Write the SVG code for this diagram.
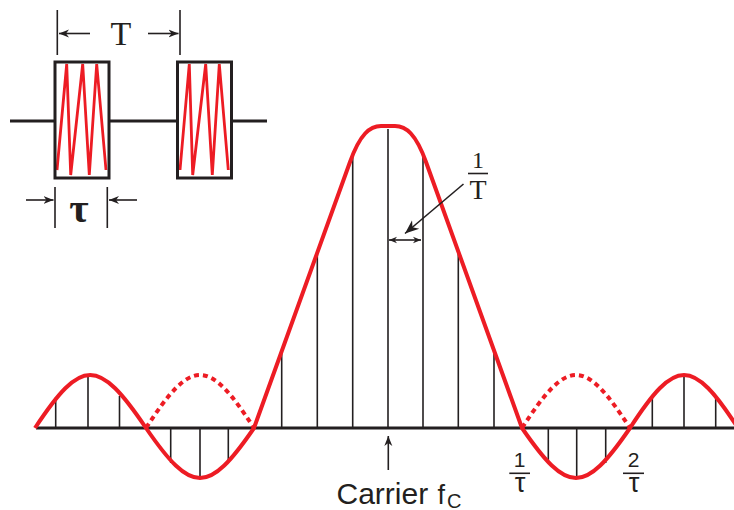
<svg xmlns="http://www.w3.org/2000/svg" width="734" height="510" viewBox="0 0 734 510">
<defs>
<marker id="ah" viewBox="0 0 10 10" refX="10" refY="5" markerWidth="10" markerHeight="10" markerUnits="userSpaceOnUse" orient="auto-start-reverse">
<path d="M0,1 L10,5 L0,9 L3,5 Z" fill="#231f20"/>
</marker>
<marker id="ahs" viewBox="0 0 10 10" refX="10" refY="5" markerWidth="8" markerHeight="8" markerUnits="userSpaceOnUse" orient="auto-start-reverse">
<path d="M0,1 L10,5 L0,9 L3,5 Z" fill="#231f20"/>
</marker>
<marker id="ahb" viewBox="0 0 10 10" refX="10" refY="5" markerWidth="14" markerHeight="14" markerUnits="userSpaceOnUse" orient="auto">
<path d="M0,1 L10,5 L0,9 L3,5 Z" fill="#231f20"/>
</marker>
</defs>
<style>
.k{stroke:#231f20;fill:none}
.ln{stroke:#231f20;stroke-width:1.6;fill:none}
.red{stroke:#ed1c24;stroke-width:4;fill:none;stroke-linejoin:round}
.dot{stroke:#ed1c24;stroke-width:4;fill:none;stroke-dasharray:5 4}
.zig{stroke:#ed1c24;stroke-width:2.8;fill:none;stroke-linejoin:miter}
.box{stroke:#231f20;stroke-width:3;fill:none}
.serif{font-family:"Liberation Serif","Times New Roman",serif;fill:#231f20}
.sans{font-family:"Liberation Sans",Arial,sans-serif;fill:#231f20}
</style>

<g id="pulse-train">
<line class="k" stroke-width="3" x1="10" y1="121" x2="56" y2="121"/>
<line class="k" stroke-width="3" x1="108" y1="121" x2="178" y2="121"/>
<line class="k" stroke-width="3" x1="231" y1="121" x2="267" y2="121"/>
<path class="zig" d="M57,170 L66.7,64 L70.7,175 L82.7,64 L89.3,175 L96.7,64 L106,170"/>
<path class="zig" d="M180,170 L189.3,64 L192.7,175 L205.7,64 L212.3,175 L219.3,64 L228.3,170"/>
<rect class="box" x="55" y="62" width="54" height="116"/>
<rect class="box" x="177.5" y="62" width="54" height="116"/>
</g>

<g id="dim-T">
<line class="ln" x1="57.3" y1="10" x2="57.3" y2="55"/>
<line class="ln" x1="180" y1="10" x2="180" y2="55"/>
<line class="ln" x1="90" y1="33.5" x2="59" y2="33.5" marker-end="url(#ah)"/>
<line class="ln" x1="148" y1="33.5" x2="178.5" y2="33.5" marker-end="url(#ah)"/>
<text class="serif" x="121" y="45" font-size="34" text-anchor="middle">T</text>
</g>

<g id="dim-tau">
<line class="ln" x1="55" y1="187" x2="55" y2="228"/>
<line class="ln" x1="107.3" y1="187" x2="107.3" y2="228"/>
<line class="ln" x1="26" y1="200" x2="53.5" y2="200" marker-end="url(#ah)"/>
<line class="ln" x1="137" y1="200" x2="109" y2="200" marker-end="url(#ah)"/>
<text class="serif" x="79" y="222" font-size="42" font-weight="bold" text-anchor="middle">τ</text>
</g>

<g id="spectrum-lines">
<line class="ln" x1="55.7" y1="428" x2="55.7" y2="397"/>
<line class="ln" x1="88" y1="428" x2="88" y2="376"/>
<line class="ln" x1="119.5" y1="428" x2="119.5" y2="396"/>
<line class="ln" x1="170.7" y1="428" x2="170.7" y2="463"/>
<line class="ln" x1="200" y1="428" x2="200" y2="478"/>
<line class="ln" x1="228.3" y1="428" x2="228.3" y2="463"/>
<line class="ln" x1="281.7" y1="428" x2="281.7" y2="352"/>
<line class="ln" x1="317.3" y1="428" x2="317.3" y2="253"/>
<line class="ln" x1="352.7" y1="428" x2="352.7" y2="157"/>
<line class="ln" x1="388" y1="428" x2="388" y2="129"/>
<line class="ln" x1="423" y1="428" x2="423" y2="157"/>
<line class="ln" x1="458.3" y1="428" x2="458.3" y2="253"/>
<line class="ln" x1="494" y1="428" x2="494" y2="352"/>
<line class="ln" x1="548.3" y1="428" x2="548.3" y2="463"/>
<line class="ln" x1="576.7" y1="428" x2="576.7" y2="478"/>
<line class="ln" x1="605.7" y1="428" x2="605.7" y2="463"/>
<line class="ln" x1="652.3" y1="428" x2="652.3" y2="397"/>
<line class="ln" x1="684" y1="428" x2="684" y2="376"/>
<line class="ln" x1="715.7" y1="428" x2="715.7" y2="397"/>
</g>

<g id="baseline">
<line class="k" stroke-width="3" x1="36" y1="428" x2="734" y2="428"/>
</g>

<g id="envelope">
<path class="red" d="M35,428 C81.7,357.3 98.3,357.3 146,428 C191.8,494.7 208.2,494.7 254,428 L350,162 C360,134 370,126 381,126 L395,126 C406,126 416,134 426,162 L522,428 C567.8,494.7 584.2,494.7 630,428 C675.8,357.3 692.2,357.3 738,428"/>
<path class="dot" d="M146,428 C191.8,357.3 208.2,357.3 254,428"/>
<path class="dot" d="M522,428 C567.8,357.3 584.2,357.3 630,428"/>
</g>

<g id="connectors">
<line class="ln" x1="388.3" y1="470" x2="388.3" y2="436" marker-end="url(#ah)"/>
<line class="ln" x1="463.5" y1="184" x2="405" y2="233.5" stroke-width="2" marker-end="url(#ahb)"/>
<line class="ln" x1="389" y1="240" x2="421" y2="240" stroke-width="1.4" marker-start="url(#ahs)" marker-end="url(#ahs)"/>
</g>

<g id="label-carrier">
<text class="sans" x="336.5" y="504" font-size="30">Carrier</text>
<text class="sans" x="437.5" y="504" font-size="27">f</text>
<text class="sans" x="447" y="507.5" font-size="20">C</text>
</g>

<g id="label-1T">
<text class="serif" x="478" y="168" font-size="24" text-anchor="middle">1</text>
<line class="ln" stroke-width="1.2" x1="468" y1="173.5" x2="488" y2="173.5"/>
<text class="serif" x="478" y="199" font-size="28" text-anchor="middle">T</text>
</g>

<g id="label-1tau">
<text class="sans" x="519.5" y="466.5" font-size="21" text-anchor="middle">1</text>
<line class="ln" stroke-width="1.2" x1="509.3" y1="473.3" x2="530" y2="473.3"/>
<text class="sans" x="520" y="492" font-size="27" text-anchor="middle">τ</text>
</g>

<g id="label-2tau">
<text class="sans" x="633.5" y="466.5" font-size="21" text-anchor="middle">2</text>
<line class="ln" stroke-width="1.2" x1="623" y1="473.3" x2="644" y2="473.3"/>
<text class="sans" x="634" y="492" font-size="27" text-anchor="middle">τ</text>
</g>
</svg>
